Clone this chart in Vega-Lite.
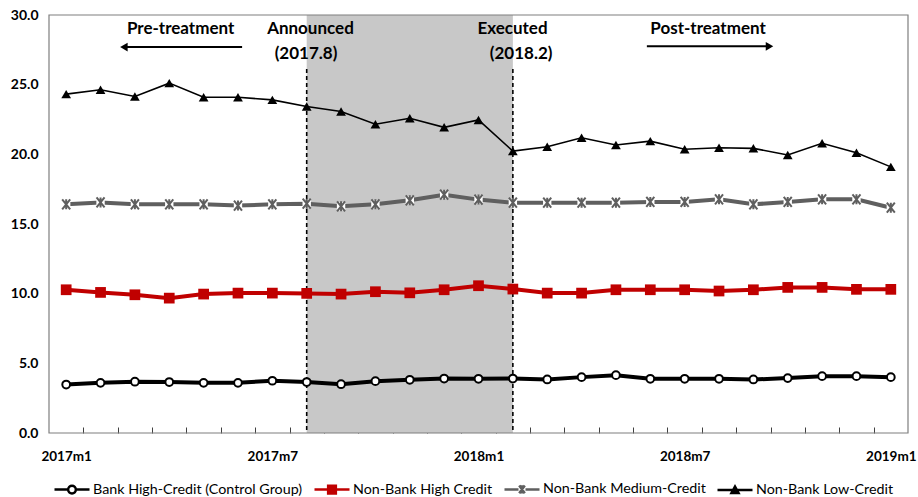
{
  "$schema": "https://vega.github.io/schema/vega-lite/v6.json",
  "width": 859,
  "height": 418,
  "autosize": {"type": "none"},
  "padding": {"left": 49, "top": 15, "right": 10, "bottom": 64},
  "background": "white",
  "config": {
    "font": "Lato",
    "view": {"stroke": null}
  },
  "datasets": {
    "wide": [
      {"t": 0, "month": "2017m1", "bank": 3.48, "nbHigh": 10.28, "nbMed": 16.41, "nbLow": 24.32},
      {"t": 1, "month": "2017m2", "bank": 3.60, "nbHigh": 10.09, "nbMed": 16.55, "nbLow": 24.63},
      {"t": 2, "month": "2017m3", "bank": 3.68, "nbHigh": 9.92, "nbMed": 16.41, "nbLow": 24.15},
      {"t": 3, "month": "2017m4", "bank": 3.66, "nbHigh": 9.68, "nbMed": 16.41, "nbLow": 25.11},
      {"t": 4, "month": "2017m5", "bank": 3.60, "nbHigh": 9.97, "nbMed": 16.41, "nbLow": 24.10},
      {"t": 5, "month": "2017m6", "bank": 3.60, "nbHigh": 10.04, "nbMed": 16.32, "nbLow": 24.10},
      {"t": 6, "month": "2017m7", "bank": 3.75, "nbHigh": 10.04, "nbMed": 16.41, "nbLow": 23.91},
      {"t": 7, "month": "2017m8", "bank": 3.66, "nbHigh": 10.02, "nbMed": 16.46, "nbLow": 23.43},
      {"t": 8, "month": "2017m9", "bank": 3.50, "nbHigh": 9.97, "nbMed": 16.27, "nbLow": 23.07},
      {"t": 9, "month": "2017m10", "bank": 3.72, "nbHigh": 10.14, "nbMed": 16.41, "nbLow": 22.16},
      {"t": 10, "month": "2017m11", "bank": 3.82, "nbHigh": 10.06, "nbMed": 16.70, "nbLow": 22.59},
      {"t": 11, "month": "2017m12", "bank": 3.91, "nbHigh": 10.28, "nbMed": 17.10, "nbLow": 21.94},
      {"t": 12, "month": "2018m1", "bank": 3.89, "nbHigh": 10.57, "nbMed": 16.75, "nbLow": 22.47},
      {"t": 13, "month": "2018m2", "bank": 3.91, "nbHigh": 10.33, "nbMed": 16.53, "nbLow": 20.23},
      {"t": 14, "month": "2018m3", "bank": 3.84, "nbHigh": 10.04, "nbMed": 16.53, "nbLow": 20.54},
      {"t": 15, "month": "2018m4", "bank": 4.01, "nbHigh": 10.04, "nbMed": 16.53, "nbLow": 21.19},
      {"t": 16, "month": "2018m5", "bank": 4.15, "nbHigh": 10.28, "nbMed": 16.53, "nbLow": 20.67},
      {"t": 17, "month": "2018m6", "bank": 3.89, "nbHigh": 10.28, "nbMed": 16.58, "nbLow": 20.95},
      {"t": 18, "month": "2018m7", "bank": 3.89, "nbHigh": 10.28, "nbMed": 16.58, "nbLow": 20.36},
      {"t": 19, "month": "2018m8", "bank": 3.89, "nbHigh": 10.19, "nbMed": 16.77, "nbLow": 20.47},
      {"t": 20, "month": "2018m9", "bank": 3.84, "nbHigh": 10.28, "nbMed": 16.41, "nbLow": 20.43},
      {"t": 21, "month": "2018m10", "bank": 3.94, "nbHigh": 10.45, "nbMed": 16.58, "nbLow": 19.95},
      {"t": 22, "month": "2018m11", "bank": 4.08, "nbHigh": 10.45, "nbMed": 16.77, "nbLow": 20.79},
      {"t": 23, "month": "2018m12", "bank": 4.08, "nbHigh": 10.31, "nbMed": 16.77, "nbLow": 20.11},
      {"t": 24, "month": "2019m1", "bank": 4.01, "nbHigh": 10.31, "nbMed": 16.17, "nbLow": 19.10}
    ]
  },
  "resolve": {"axis": {"x": "independent", "y": "independent"}},
  "layer": [
    {
      "data": {"values": [{"t": 7, "t2": 13}]},
      "mark": {"type": "rect", "fill": "#C8C8C8"},
      "encoding": {
        "x": {
          "field": "t", "type": "quantitative",
          "scale": {"domain": [-0.5, 24.5], "nice": false, "zero": false},
          "axis": {
            "orient": "bottom",
            "title": null,
            "grid": false,
            "domain": false,
            "labels": false,
            "offset": -6,
            "values": [0.5, 1.5, 2.5, 3.5, 4.5, 5.5, 6.5, 7.5, 8.5, 9.5, 10.5, 11.5, 12.5, 13.5, 14.5, 15.5, 16.5, 17.5, 18.5, 19.5, 20.5, 21.5, 22.5, 23.5],
            "ticks": true,
            "tickSize": 6,
            "tickColor": "#404040",
            "tickWidth": 1
          }
        },
        "x2": {"field": "t2"}
      }
    },
    {
      "data": {"values": [{"t": 7, "v": 26.13, "v2": 0}, {"t": 13, "v": 26.13, "v2": 0}]},
      "mark": {"type": "rule", "stroke": "#000000", "strokeWidth": 1.6, "strokeDash": [4, 3]},
      "encoding": {
        "x": {"field": "t", "type": "quantitative", "scale": {"domain": [-0.5, 24.5], "nice": false, "zero": false}, "axis": null},
        "y": {
          "field": "v", "type": "quantitative",
          "scale": {"domain": [0, 30], "nice": false},
          "axis": {
            "orient": "left",
            "title": null,
            "grid": false,
            "domain": false,
            "ticks": false,
            "values": [0, 5, 10, 15, 20, 25, 30],
            "format": ".1f",
            "labelFont": "Lato",
            "labelFontWeight": "bold",
            "labelFontSize": 14,
            "labelColor": "#000000",
            "labelPadding": 11,
            "labelOverlap": false,
            "labelBound": false,
            "labelFlush": false
          }
        },
        "y2": {"field": "v2"}
      }
    },
    {
      "data": {"values": [{"t": 1.75, "t2": 5.12, "v": 27.7}, {"t": 16.9, "t2": 20.4, "v": 27.75}]},
      "mark": {"type": "rule", "stroke": "#000000", "strokeWidth": 2},
      "encoding": {
        "x": {"field": "t", "type": "quantitative", "scale": {"domain": [-0.5, 24.5], "nice": false, "zero": false}, "axis": null},
        "x2": {"field": "t2"},
        "y": {"field": "v", "type": "quantitative", "scale": {"domain": [0, 30], "nice": false}, "axis": null}
      }
    },
    {
      "data": {"values": [{"t": 1.68, "v": 27.7}]},
      "mark": {"type": "point", "shape": "triangle-left", "filled": true, "fill": "#000000", "size": 75, "opacity": 1},
      "encoding": {
        "x": {"field": "t", "type": "quantitative", "scale": {"domain": [-0.5, 24.5], "nice": false, "zero": false}, "axis": null},
        "y": {"field": "v", "type": "quantitative", "scale": {"domain": [0, 30], "nice": false}, "axis": null}
      }
    },
    {
      "data": {"values": [{"t": 20.47, "v": 27.75}]},
      "mark": {"type": "point", "shape": "triangle-right", "filled": true, "fill": "#000000", "size": 75, "opacity": 1},
      "encoding": {
        "x": {"field": "t", "type": "quantitative", "scale": {"domain": [-0.5, 24.5], "nice": false, "zero": false}, "axis": null},
        "y": {"field": "v", "type": "quantitative", "scale": {"domain": [0, 30], "nice": false}, "axis": null}
      }
    },
    {
      "data": {"name": "wide"},
      "transform": [{"fold": ["bank"], "as": ["series", "v"]}],
      "mark": {"type": "line", "stroke": "#000000", "strokeWidth": 4},
      "encoding": {
        "x": {
          "field": "t", "type": "quantitative",
          "scale": {"domain": [-0.5, 24.5], "nice": false, "zero": false},
          "axis": {
            "orient": "bottom",
            "title": null,
            "grid": false,
            "domain": false,
            "ticks": false,
            "values": [0, 6, 12, 18, 24],
            "labelExpr": "['2017m1','2017m7','2018m1','2018m7','2019m1'][round(datum.value / 6)]",
            "labelOverlap": false,
            "labelFlush": false,
            "labelBound": false,
            "labelFont": "Lato",
            "labelFontWeight": "bold",
            "labelFontSize": 13.5,
            "labelColor": "#000000",
            "labelPadding": 16
          }
        },
        "y": {"field": "v", "type": "quantitative", "scale": {"domain": [0, 30], "nice": false}, "axis": null}
      }
    },
    {
      "data": {"name": "wide"},
      "transform": [{"fold": ["nbHigh"], "as": ["series", "v"]}],
      "mark": {"type": "line", "stroke": "#C00000", "strokeWidth": 4},
      "encoding": {
        "x": {"field": "t", "type": "quantitative", "scale": {"domain": [-0.5, 24.5], "nice": false, "zero": false}, "axis": null},
        "y": {"field": "v", "type": "quantitative", "scale": {"domain": [0, 30], "nice": false}, "axis": null}
      }
    },
    {
      "data": {"name": "wide"},
      "transform": [{"fold": ["nbMed"], "as": ["series", "v"]}],
      "mark": {"type": "line", "stroke": "#5F5F5F", "strokeWidth": 4},
      "encoding": {
        "x": {"field": "t", "type": "quantitative", "scale": {"domain": [-0.5, 24.5], "nice": false, "zero": false}, "axis": null},
        "y": {"field": "v", "type": "quantitative", "scale": {"domain": [0, 30], "nice": false}, "axis": null}
      }
    },
    {
      "data": {"name": "wide"},
      "transform": [{"fold": ["nbLow"], "as": ["series", "v"]}],
      "mark": {"type": "line", "stroke": "#000000", "strokeWidth": 1.6},
      "encoding": {
        "x": {"field": "t", "type": "quantitative", "scale": {"domain": [-0.5, 24.5], "nice": false, "zero": false}, "axis": null},
        "y": {"field": "v", "type": "quantitative", "scale": {"domain": [0, 30], "nice": false}, "axis": null}
      }
    },
    {
      "data": {"name": "wide"},
      "transform": [{"fold": ["bank"], "as": ["series", "v"]}],
      "mark": {"type": "point", "shape": "circle", "filled": true, "fill": "#FFFFFF", "stroke": "#000000", "strokeWidth": 2, "size": 60, "opacity": 1},
      "encoding": {
        "x": {"field": "t", "type": "quantitative", "scale": {"domain": [-0.5, 24.5], "nice": false, "zero": false}, "axis": null},
        "y": {"field": "v", "type": "quantitative", "scale": {"domain": [0, 30], "nice": false}, "axis": null}
      }
    },
    {
      "data": {"name": "wide"},
      "transform": [{"fold": ["nbHigh"], "as": ["series", "v"]}],
      "mark": {"type": "point", "shape": "square", "filled": true, "fill": "#C00000", "size": 115, "opacity": 1},
      "encoding": {
        "x": {"field": "t", "type": "quantitative", "scale": {"domain": [-0.5, 24.5], "nice": false, "zero": false}, "axis": null},
        "y": {"field": "v", "type": "quantitative", "scale": {"domain": [0, 30], "nice": false}, "axis": null}
      }
    },
    {
      "data": {"name": "wide"},
      "transform": [{"fold": ["nbMed"], "as": ["series", "v"]}],
      "mark": {"type": "point", "shape": "square", "filled": true, "fill": "#FFFFFF", "size": 70, "opacity": 1},
      "encoding": {
        "x": {"field": "t", "type": "quantitative", "scale": {"domain": [-0.5, 24.5], "nice": false, "zero": false}, "axis": null},
        "y": {"field": "v", "type": "quantitative", "scale": {"domain": [0, 30], "nice": false}, "axis": null}
      }
    },
    {
      "data": {"name": "wide"},
      "transform": [{"fold": ["nbMed"], "as": ["series", "v"]}],
      "mark": {"type": "point", "shape": "M-0.8,-1L0.8,1M0.8,-1L-0.8,1M0,-1V1", "filled": false, "stroke": "#5F5F5F", "strokeWidth": 2, "size": 100, "opacity": 1},
      "encoding": {
        "x": {"field": "t", "type": "quantitative", "scale": {"domain": [-0.5, 24.5], "nice": false, "zero": false}, "axis": null},
        "y": {"field": "v", "type": "quantitative", "scale": {"domain": [0, 30], "nice": false}, "axis": null}
      }
    },
    {
      "data": {"name": "wide"},
      "transform": [{"fold": ["nbLow"], "as": ["series", "v"]}],
      "mark": {"type": "point", "shape": "triangle-up", "filled": true, "fill": "#000000", "size": 95, "opacity": 1},
      "encoding": {
        "x": {"field": "t", "type": "quantitative", "scale": {"domain": [-0.5, 24.5], "nice": false, "zero": false}, "axis": null},
        "y": {"field": "v", "type": "quantitative", "scale": {"domain": [0, 30], "nice": false}, "axis": null}
      }
    },
    {
      "data": {"values": [
        {"t": 3.33, "v": 28.97, "label": "Pre-treatment"},
        {"t": 7.11, "v": 28.97, "label": "Announced"},
        {"t": 6.98, "v": 27.2, "label": "(2017.8)"},
        {"t": 12.99, "v": 28.97, "label": "Executed"},
        {"t": 13.24, "v": 27.2, "label": "(2018.2)"},
        {"t": 18.68, "v": 28.97, "label": "Post-treatment"}
      ]},
      "mark": {"type": "text", "font": "Lato", "fontWeight": "bold", "fontSize": 17, "align": "center", "baseline": "middle", "color": "#000000"},
      "encoding": {
        "x": {"field": "t", "type": "quantitative", "scale": {"domain": [-0.5, 24.5], "nice": false, "zero": false}, "axis": null},
        "y": {"field": "v", "type": "quantitative", "scale": {"domain": [0, 30], "nice": false}, "axis": null},
        "text": {"field": "label"}
      }
    },
    {
      "data": {"values": [{"frame": "plot"}]},
      "mark": {"type": "rect", "fill": null, "stroke": "#7F7F7F", "strokeWidth": 1.2},
      "encoding": {}
    },
    {
      "data": {"values": [
        {"series": "Bank High-Credit (Control Group)"},
        {"series": "Non-Bank High Credit"},
        {"series": "Non-Bank Medium-Credit"},
        {"series": "Non-Bank Low-Credit"}
      ]},
      "mark": {"type": "point", "filled": true, "opacity": 0},
      "encoding": {
        "shape": {
          "field": "series",
          "type": "nominal",
          "scale": {
            "domain": ["Bank High-Credit (Control Group)", "Non-Bank High Credit", "Non-Bank Medium-Credit", "Non-Bank Low-Credit"],
            "range": [
              "M-1,0H-0.24M0.24,0H1M0.22,0A0.22,0.22,0,1,1,-0.22,0A0.22,0.22,0,1,1,0.22,0Z",
              "M-1,0H1M-0.22,-0.22H0.22V0.22H-0.22Z",
              "M-1,0H-0.2M0.2,0H1M-0.16,-0.22L0.16,0.22M0.16,-0.22L-0.16,0.22M0,-0.24V0.24",
              "M-1,0H1M0,-0.2L0.2,0.16H-0.2Z"
            ]
          },
          "legend": {
            "title": null,
            "orient": "none",
            "legendX": 4,
            "legendY": 455,
            "direction": "horizontal",
            "columns": 4,
            "columnPadding": 6,
            "labelOffset": 2,
            "labelFont": "Lato",
            "labelFontSize": 14.3,
            "labelColor": "#000000",
            "labelLimit": 400,
            "symbolSize": 1225,
            "symbolStrokeWidth": 2.5,
            "symbolOpacity": 1
          }
        },
        "fill": {
          "field": "series",
          "type": "nominal",
          "scale": {
            "domain": ["Bank High-Credit (Control Group)", "Non-Bank High Credit", "Non-Bank Medium-Credit", "Non-Bank Low-Credit"],
            "range": ["#FFFFFF", "#C00000", "#5F5F5F", "#000000"]
          }
        },
        "stroke": {
          "field": "series",
          "type": "nominal",
          "scale": {
            "domain": ["Bank High-Credit (Control Group)", "Non-Bank High Credit", "Non-Bank Medium-Credit", "Non-Bank Low-Credit"],
            "range": ["#000000", "#C00000", "#5F5F5F", "#000000"]
          }
        }
      }
    }
  ]
}
